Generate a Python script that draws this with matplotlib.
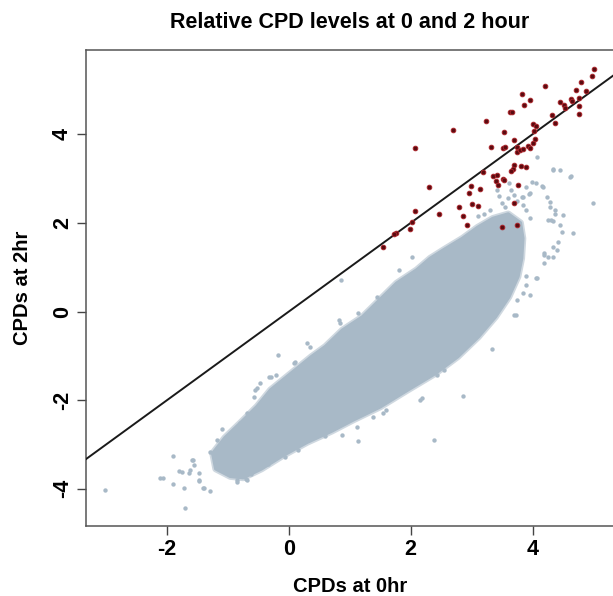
import matplotlib
matplotlib.use("Agg")
import matplotlib.pyplot as plt
from matplotlib.patches import Polygon

plt.rcParams['font.family'] = ['Liberation Sans', 'DejaVu Sans']

title = "Relative CPD levels at 0 and 2 hour"
xlabel = "CPDs at 0hr"
ylabel = "CPDs at 2hr"
xticks = [-2, 0, 2, 4]
yticks = [-4, -2, 0, 2, 4]
line_intercept = 0.0
line_slope = 1.0

# outline of the dense gray cloud
cloud_x = [-1.25, -1.20, -0.96, -0.75, -0.45, -0.10, 0.30, 0.70, 1.05, 1.50, 1.95, 2.40,
           2.77, 3.11, 3.39, 3.61, 3.76, 3.82, 3.84, 3.80, 3.60,
           3.35, 3.10, 2.85, 2.55, 2.32, 2.10, 1.77, 1.49, 1.21, 0.88, 0.60, 0.37, 0.04,
           -0.30, -0.52, -0.80, -1.05]
cloud_y = [-3.20, -3.55, -3.72, -3.75, -3.55, -3.25, -2.95, -2.70, -2.45, -2.15, -1.77, -1.40,
           -1.02, -0.57, -0.12, 0.33, 0.79, 1.20, 1.65, 2.00, 2.20,
           2.10, 1.90, 1.65, 1.40, 1.20, 0.94, 0.64, 0.26, -0.12, -0.42, -0.79, -1.02, -1.39,
           -1.77, -2.14, -2.52, -2.85]

# sparse gray points
gray_x = [-3.01, -2.11, -2.07, -1.91, -1.90, -1.72, -1.70, -1.81, -1.75, -1.59, -1.56, -1.64,
          -1.48, -1.40, -1.30, -1.48, -1.30, -1.10, -1.18, -0.85, -0.71, -0.63, -0.80, -0.90,
          -0.69, -0.55, -0.47, -0.41, -1.47, -1.63, -1.41, -1.58,
          -0.52, -0.32, -0.21, 0.10, -0.18, 0.08, 0.30, 0.35, 0.82, 0.84, 1.14, 1.45, 1.72,
          0.85, 1.80, 2.02, -0.58, -0.30,
          2.85, 2.38, 1.13, 3.33, 3.72, 3.75, 4.05, 4.33, 4.19, 2.16, 1.60, 1.38, 0.88, 0.60,
          0.15, -0.07, -0.35, -0.69, -0.85, 2.18, 1.55, 1.12, 2.54, 2.43,
          3.99, 4.06, 4.15, 4.63, 4.34, 4.23, 4.29, 3.90, 3.96, 3.85, 4.37, 4.50, 4.26, 4.30,
          4.34, 4.67, 4.45, 4.48, 4.34, 4.40, 4.18, 4.26, 4.18, 3.90, 4.07, 3.90, 3.85, 3.96,
          3.69, 4.07, 4.34, 4.45, 4.61, 4.99, 4.42, 4.28, 4.36, 3.83, 3.41, 3.94, 4.17,
          3.50, 3.60, 3.70, 3.55, 3.30, 3.20, 3.65, 3.75, 3.45, 3.85, 3.90, 3.95, 3.62, 3.10]
gray_y = [-4.02, -3.75, -3.75, -3.27, -3.89, -3.99, -4.43, -3.59, -3.62, -3.34, -3.46, -3.64,
          -3.64, -3.98, -4.04, -3.83, -3.18, -2.65, -2.89, -3.80, -3.78, -3.67, -2.52, -2.74,
          -2.29, -1.77, -1.62, -1.99, -3.80, -3.58, -3.99, -3.35,
          -1.73, -1.47, -1.43, -1.13, -0.98, -1.17, -0.72, -0.79, -0.19, -0.27, -0.04, 0.33, 0.56,
          0.70, 0.94, 1.23, -1.92, -1.47,
          -1.90, -2.90, -2.92, -0.85, -0.08, 0.26, 0.75, 1.23, 1.31, -2.00, -2.22, -2.37, -2.79, -2.82,
          -3.13, -3.28, -3.43, -3.80, -3.84, -1.96, -2.30, -2.60, -1.32, -1.43,
          2.93, 2.89, 2.83, 3.06, 3.19, 2.59, 2.48, 2.82, 2.67, 2.59, 2.29, 2.18, 2.07, 2.07,
          2.05, 1.77, 1.95, 1.80, 1.46, 1.39, 1.28, 1.24, 1.09, 0.79, 0.75, 0.60, 0.41, 0.37,
          -0.08, 3.48, 3.22, 3.19, 3.04, 2.44, 1.57, 2.36, 2.21, 2.59, 2.74, 2.66, 2.81,
          2.45, 2.55, 2.62, 2.35, 2.30, 2.20, 2.75, 2.50, 2.60, 2.40, 2.30, 2.10, 2.90, 2.15]

# highlighted (red) points
red_x = [5.01, 4.98, 4.79, 4.71, 4.88, 4.21, 3.82, 3.96, 3.86, 4.45, 4.52, 4.63, 4.65, 4.54,
         4.77, 4.77, 4.77, 3.63, 3.66, 4.32, 4.36, 4.00, 4.05, 4.03, 3.53, 3.23, 2.69, 2.07,
         3.32, 3.52, 3.55, 3.70, 3.74, 3.75, 3.80, 3.84, 3.93, 3.95, 4.01, 4.04, 3.70, 3.68,
         3.64, 3.81, 3.90, 3.35, 3.41, 3.40, 3.44, 3.51, 3.53, 3.19, 2.99, 2.96, 3.13, 2.30,
         3.01, 3.10, 2.80, 2.85, 2.92, 3.76, 3.70, 3.75, 3.49, 2.46, 2.07, 2.02, 1.99, 1.75,
         1.72, 1.55]
red_y = [5.48, 5.32, 5.18, 5.00, 4.97, 5.09, 4.91, 4.77, 4.66, 4.73, 4.67, 4.80, 4.75, 4.60,
         4.82, 4.63, 4.46, 4.50, 4.50, 4.44, 4.25, 4.22, 4.18, 4.07, 4.05, 4.29, 4.09, 3.70,
         3.72, 3.70, 3.72, 3.88, 3.72, 3.59, 3.65, 3.67, 3.73, 3.68, 3.80, 3.90, 3.30, 3.21,
         3.17, 3.28, 3.26, 3.05, 3.07, 2.95, 2.85, 3.00, 2.96, 3.15, 2.83, 2.68, 2.77, 2.80,
         2.42, 2.38, 2.35, 2.15, 1.96, 2.86, 2.44, 1.96, 1.90, 2.20, 2.26, 2.02, 1.87, 1.77,
         1.74, 1.46]

gray = '#a8b9c7'

fig = plt.figure(figsize=(6.13, 5.96), dpi=100)
ax = fig.add_axes([0.1403, 0.1174, 0.8607, 0.7987])

cloud_pts = list(zip(cloud_x, cloud_y))
ax.add_patch(Polygon(cloud_pts, closed=True, facecolor='none',
                     edgecolor=gray, linewidth=5, alpha=0.55, joinstyle='round', zorder=1))
ax.add_patch(Polygon(cloud_pts, closed=True, facecolor=gray,
                     edgecolor=gray, linewidth=2.5, joinstyle='round', zorder=1))
ax.scatter(gray_x, gray_y, s=10, color=gray, linewidths=0, zorder=2)
ax.axline((0, line_intercept), slope=line_slope, color='#1a1a1a', linewidth=1.4, zorder=3)
ax.scatter(red_x, red_y, s=11, facecolor='#5a0b10', edgecolor='#a8242a', linewidths=0.7, zorder=4)

ax.set_xlim(-3.33, 5.33)
ax.set_ylim(-4.84, 5.90)
ax.set_xticks(xticks)
ax.set_yticks(yticks)
ax.set_xticklabels([str(t) for t in xticks], fontsize=15.5, fontweight='bold')
ax.set_yticklabels([str(t) for t in yticks], fontsize=15.5, fontweight='bold', rotation=90, va='center')
ax.tick_params(axis='both', direction='out', length=6.5, width=1.0, color='#444444', pad=3)
for side in ['left', 'bottom', 'top', 'right']:
    ax.spines[side].set_color('#555555')
    ax.spines[side].set_linewidth(1.1)

ax.set_title(title, fontsize=15.5, fontweight='bold', pad=16)
ax.set_xlabel(xlabel, fontsize=14.5, fontweight='bold', labelpad=12)
ax.set_ylabel(ylabel, fontsize=14.5, fontweight='bold', labelpad=14)

fig.savefig('out.png', dpi=100)
